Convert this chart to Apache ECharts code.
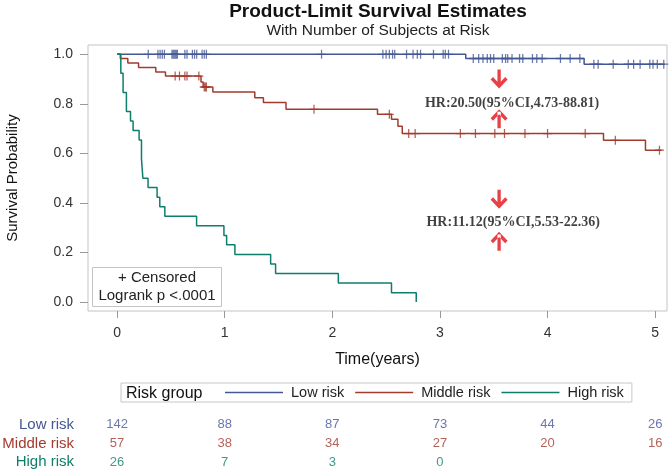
<!DOCTYPE html>
<html>
<head>
<meta charset="utf-8">
<script src="https://cdn.jsdelivr.net/npm/echarts@6/dist/echarts.min.js"></script>
<style>
  html, body { margin: 0; padding: 0; background: #fff; }
  #chart { width: 672px; height: 473px; }
</style>
</head>
<body>
<div id="chart"></div>
<script>
// curve steps: time of each event and survival after it
const lowT = [0, 3.24, 4.34, 5.09];
const lowS = [1, 0.983, 0.96, 0.96];
const midT = [0, 0.03, 0.10, 0.20, 0.36, 0.45, 0.78, 0.80, 0.89, 1.28, 1.36, 1.57, 2.42, 2.55, 2.61, 2.65, 4.52, 4.91, 5.06];
const midS = [1, 0.983, 0.965, 0.947, 0.929, 0.912, 0.888, 0.868, 0.848, 0.825, 0.805, 0.778, 0.758, 0.738, 0.71, 0.68, 0.653, 0.613, 0.613];
const highT = [0, 0.035, 0.056, 0.087, 0.125, 0.149, 0.205, 0.227, 0.24, 0.288, 0.372, 0.397, 0.444, 0.739, 0.993, 1.018, 1.095, 1.427, 1.473, 2.056, 2.55, 2.78];
const highS = [1, 0.923, 0.846, 0.769, 0.731, 0.692, 0.654, 0.577, 0.5, 0.462, 0.423, 0.385, 0.346, 0.308, 0.269, 0.231, 0.192, 0.154, 0.115, 0.077, 0.038, 0];

// censored times
const lowCensor = [0.29, 0.38, 0.40, 0.42, 0.44, 0.51, 0.52, 0.53, 0.54, 0.55, 0.56, 0.63, 0.65, 0.70, 0.72, 0.74, 0.79, 0.81, 0.83,
    1.90, 2.47, 2.50, 2.53, 2.56, 2.58, 2.69, 2.75, 2.79, 2.82, 2.94, 3.03, 3.05, 3.08, 3.31, 3.36, 3.40, 3.44, 3.47, 3.50,
    3.58, 3.61, 3.63, 3.67, 3.74, 3.77, 3.86, 3.90, 3.95, 4.12, 4.21, 4.30, 4.43, 4.47, 4.61, 4.75, 4.80, 4.86, 4.95, 4.98, 5.02, 5.08];
const midCensor = [0.54, 0.58, 0.63, 0.65, 0.76, 0.81, 0.82, 0.83, 1.83, 2.53, 2.71, 2.77, 3.19, 3.33, 3.51, 3.60, 3.79, 4.00, 4.35, 4.63, 5.04];

// number at risk
const riskTimes = [0, 1, 2, 3, 4, 5];
const lowRisk = [142, 88, 87, 73, 44, 26];
const midRisk = [57, 38, 34, 27, 20, 16];
const highRisk = [26, 7, 3, 0];

const groups = ['Low risk', 'Middle risk', 'High risk'];
const colors = ['#445694', '#A23A2E', '#0f7d6b'];

const xTicks = [0, 1, 2, 3, 4, 5];
const yTicks = [0, 0.2, 0.4, 0.6, 0.8, 1.0];

// hazard ratio notes
const hrText = ['HR:20.50(95%CI,4.73-88.81)', 'HR:11.12(95%CI,5.53-22.36)'];
const hrT = [3.67, 3.68];
const hrS = [0.802, 0.323];
const arrowT = [3.55, 3.55, 3.55, 3.55];
const arrowS = [0.90, 0.74, 0.415, 0.245];
const arrowDir = ['down', 'up', 'down', 'up'];

const FONT = '"Liberation Sans", Arial, sans-serif';
const plusPath = 'path://M4.3,0 H5.7 V10 H4.3 Z M0,4.3 H10 V5.7 H0 Z';
const downArrow = 'path://M6.6,0 H9.8 V15 H6.6 Z M0,9.2 L2.3,6.9 L8.2,12.8 L14.1,6.9 L16.4,9.2 L8.2,17.4 Z';
const upArrow = 'path://M6.6,2.4 H9.8 V17.4 H6.6 Z M0,8.2 L2.3,10.5 L8.2,4.6 L14.1,10.5 L16.4,8.2 L8.2,0 Z';

const stepValue = (t, T, S) => {
    let v = S[0];
    for (let i = 0; i < T.length; i++) {
        if (T[i] <= t) v = S[i];
    }
    return v;
};
const pairs = (T, S) => T.map((t, i) => [t, S[i]]);

const curves = [[lowT, lowS], [midT, midS], [highT, highS]];
const censors = [lowCensor, midCensor, []];
const risks = [lowRisk, midRisk, highRisk];

const series = [];
groups.forEach((g, k) => {
    series.push({
        name: g,
        type: 'line',
        step: 'end',
        data: pairs(curves[k][0], curves[k][1]),
        showSymbol: false,
        lineStyle: {color: colors[k], width: 1.5},
        itemStyle: {color: colors[k]},
        z: 3,
    });
});
groups.forEach((g, k) => {
    if (!censors[k].length) return;
    series.push({
        name: g + ' censored',
        type: 'scatter',
        symbol: plusPath,
        symbolSize: 9,
        itemStyle: {color: colors[k]},
        data: censors[k].map(t => [t, stepValue(t, curves[k][0], curves[k][1])]),
        z: 4,
    });
});
// risk table numbers
groups.forEach((g, k) => {
    series.push({
        name: g + ' at risk',
        type: 'scatter',
        xAxisIndex: 1,
        yAxisIndex: 1,
        symbolSize: 0,
        data: risks[k].map((n, i) => [riskTimes[i], g, n]),
        label: {
            show: true,
            position: 'inside',
            formatter: p => p.value[2],
            color: colors[k],
            fontSize: 13,
            fontFamily: FONT,
        },
    });
});
series.push({
    name: 'arrows',
    type: 'scatter',
    symbolSize: [17, 19],
    itemStyle: {color: '#e3101a'},
    data: arrowT.map((t, i) => ({value: [t, arrowS[i]], symbol: arrowDir[i] === 'down' ? downArrow : upArrow})),
    z: 5,
});
series.push({
    name: 'hr',
    type: 'scatter',
    symbolSize: 0,
    data: hrText.map((s, i) => [hrT[i], hrS[i], s]),
    label: {
        show: true,
        position: 'inside',
        formatter: p => p.value[2],
        color: '#111',
        fontSize: 14,
        fontWeight: 'bold',
        fontFamily: '"Liberation Serif", "Times New Roman", serif',
    },
    z: 5,
});

const chart = echarts.init(document.getElementById('chart'), null, {renderer: 'canvas'});
chart.setOption({
    animation: false,
    textStyle: {fontFamily: FONT},
    grid: [
        {left: 88, top: 45, width: 579, height: 266, show: true, borderColor: '#c4c4c4', borderWidth: 1, outerBoundsMode: 'none'},
        {left: 88, top: 415.5, width: 579, height: 56, outerBoundsMode: 'none'},
    ],
    legend: {
        data: groups,
        left: 121,
        top: 383,
        orient: 'horizontal',
        icon: 'rect',
        itemWidth: 58,
        itemHeight: 1.5,
        itemGap: 11,
        padding: [2, 8, 2, 104],
        borderColor: '#c8c8c8',
        borderWidth: 1,
        textStyle: {fontSize: 14.5, color: '#222', fontFamily: FONT, padding: [0, 0, 0, 3]},
        selectedMode: false,
    },
    xAxis: [
        {
            type: 'value',
            gridIndex: 0,
            min: -0.27,
            max: 5.11,
            name: 'Time(years)',
            nameLocation: 'middle',
            nameGap: 41,
            nameTextStyle: {fontSize: 16, color: '#111', fontFamily: FONT},
            axisLine: {show: false, onZero: false},
            axisTick: {show: true, customValues: xTicks, length: 7, lineStyle: {color: '#999'}},
            axisLabel: {customValues: xTicks, margin: 15, fontSize: 14, color: '#333', fontFamily: FONT},
            splitLine: {show: false},
        },
        {
            type: 'value',
            gridIndex: 1,
            min: -0.27,
            max: 5.11,
            show: false,
        },
    ],
    yAxis: [
        {
            type: 'value',
            gridIndex: 0,
            min: -0.036,
            max: 1.0375,
            name: 'Survival Probability',
            nameLocation: 'middle',
            nameGap: 68,
            nameTextStyle: {fontSize: 15, color: '#111', fontFamily: FONT},
            axisLine: {show: false, onZero: false},
            axisTick: {show: true, customValues: yTicks, length: 8, lineStyle: {color: '#999'}},
            axisLabel: {customValues: yTicks, formatter: v => v.toFixed(1), margin: 15, fontSize: 14, color: '#333', fontFamily: FONT},
            splitLine: {show: false},
        },
        {
            type: 'category',
            gridIndex: 1,
            data: groups,
            inverse: true,
            axisLine: {show: false},
            axisTick: {show: false},
            axisLabel: {
                margin: 14,
                formatter: (v, i) => `{r${i}|${v}}`,
                rich: {
                    r0: {color: colors[0], fontSize: 15, fontFamily: FONT},
                    r1: {color: colors[1], fontSize: 15, fontFamily: FONT},
                    r2: {color: colors[2], fontSize: 15, fontFamily: FONT},
                },
            },
            splitLine: {show: false},
        },
    ],
    graphic: [
        {
            type: 'text', x: 378, y: 12,
            style: {text: 'Product-Limit Survival Estimates', font: 'bold 19px ' + FONT, fill: '#111', align: 'center', verticalAlign: 'middle'},
        },
        {
            type: 'text', x: 378, y: 31,
            style: {text: 'With Number of Subjects at Risk', font: '15.5px ' + FONT, fill: '#222', align: 'center', verticalAlign: 'middle'},
        },
        {
            type: 'rect', z: 10,
            shape: {x: 92.5, y: 267.5, width: 129, height: 39},
            style: {fill: '#fff', stroke: '#c4c4c4', lineWidth: 1},
        },
        {
            type: 'text', z: 11, x: 157, y: 278,
            style: {text: '+ Censored', font: '15px ' + FONT, fill: '#222', align: 'center', verticalAlign: 'middle'},
        },
        {
            type: 'text', z: 11, x: 157, y: 296,
            style: {text: 'Logrank p <.0001', font: '15px ' + FONT, fill: '#222', align: 'center', verticalAlign: 'middle'},
        },
        {
            type: 'text', z: 11, x: 126, y: 394,
            style: {text: 'Risk group', font: '16px ' + FONT, fill: '#111', align: 'left', verticalAlign: 'middle'},
        },
    ],
    series: series,
});
</script>
</body>
</html>
